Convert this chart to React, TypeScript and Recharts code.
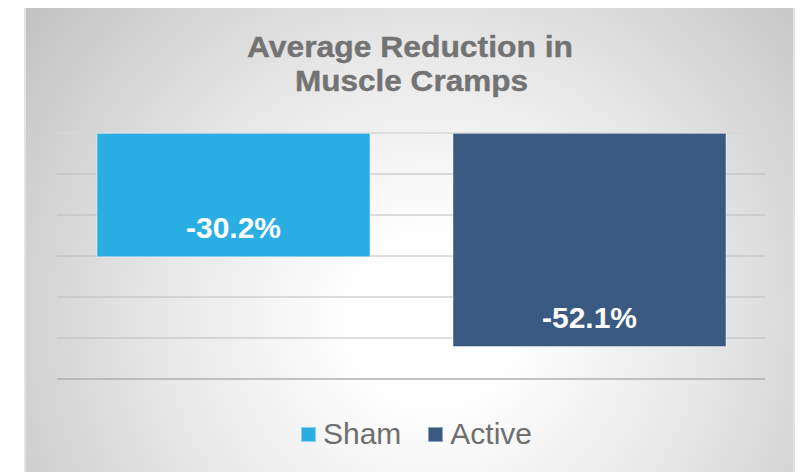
import React from 'react';
import { BarChart, Bar, XAxis, YAxis, CartesianGrid, Legend, LabelList, ReferenceLine } from 'recharts';

const categories = ['Average Reduction'];
const shamValues = [-30.2];
const activeValues = [-52.1];
const seriesNames = ['Sham', 'Active'];
const seriesColors = ['#2aaee4', '#3b5a81'];
const yTicks = [-60, -50, -40, -30, -20, -10, 0];
const titleLines = ['Average Reduction in', 'Muscle Cramps'];

const data = categories.map((c, i) => ({
  name: c,
  [seriesNames[0]]: shamValues[i],
  [seriesNames[1]]: activeValues[i],
}));

const FONT = '"Liberation Sans", Arial, sans-serif';

const fmt = (v: number) => `${v.toFixed(1)}%`;

const BarLabel = (props: any) => {
  const vb = props.viewBox || {};
  const x = props.x ?? vb.x;
  const y = props.y ?? vb.y;
  const w = props.width ?? vb.width;
  const h = props.height ?? vb.height;
  const bottom = Math.max(y, y + h);
  return (
    <text
      x={x + w / 2}
      y={bottom - 19}
      textAnchor="middle"
      fill="#ffffff"
      fontFamily={FONT}
      fontWeight="bold"
      fontSize={30}
    >
      {fmt(Number(props.value))}
    </text>
  );
};

const LegendContent = () => {
  return (
    <div
      style={{
        display: 'flex',
        justifyContent: 'center',
        alignItems: 'center',
        height: 30,
        paddingLeft: 28,
        boxSizing: 'border-box',
        fontFamily: FONT,
        fontSize: 30,
        lineHeight: '30px',
        color: '#6e6e6e',
      }}
    >
      {seriesNames.map((name, i) => (
        <div key={name} style={{ display: 'flex', alignItems: 'center', marginLeft: i === 0 ? 0 : 27 }}>
          <span
            style={{
              display: 'inline-block',
              width: 15,
              height: 15,
              background: seriesColors[i],
              boxSizing: 'border-box',
              border: '1px solid rgba(255,255,255,0.45)',
              marginRight: 7,
            }}
          />
          <span>{name}</span>
        </div>
      ))}
    </div>
  );
};

export default function App() {
  return (
    <div
      style={{
        position: 'relative',
        width: 805,
        height: 472,
        margin: '-8px 0 0 -8px',
        overflow: 'hidden',
        background: '#ffffff',
      }}
    >
      <div
        style={{
          position: 'absolute',
          left: 24,
          top: 4,
          width: 771,
          height: 480,
          boxSizing: 'border-box',
          border: '2px solid #e4e4e4',
          background:
            'radial-gradient(circle farthest-corner at 53% 66%, #ffffff 0%, #ffffff 16%, #e8e8e8 52%, #c2c2c2 100%)',
        }}
      />
      <svg width={805} height={110} style={{ position: 'absolute', left: 0, top: 0 }}>
        <text
          x={410}
          y={57}
          textAnchor="middle"
          fontFamily={FONT}
          fontWeight="bold"
          fontSize={29.5}
          fill="#737373"
          stroke="#737373"
          strokeWidth={0.4}
          textLength={326}
          lengthAdjust="spacingAndGlyphs"
        >
          {titleLines[0]}
        </text>
        <text
          x={411.5}
          y={91}
          textAnchor="middle"
          fontFamily={FONT}
          fontWeight="bold"
          fontSize={29.5}
          fill="#737373"
          stroke="#737373"
          strokeWidth={0.4}
          textLength={233}
          lengthAdjust="spacingAndGlyphs"
        >
          {titleLines[1]}
        </text>
      </svg>
      <div style={{ position: 'absolute', left: 0, top: 0 }}>
        <BarChart
          width={805}
          height={472}
          data={data}
          margin={{ top: 133, right: 40, bottom: 93, left: 57 }}
          barCategoryGap={40}
          barGap={83}
        >
          <CartesianGrid vertical={false} stroke="#bcbcbc" strokeWidth={1} />
          <XAxis dataKey="name" hide />
          <YAxis hide domain={[-60, 0]} ticks={yTicks} />
          <ReferenceLine y={0} stroke="#e4e4e4" strokeWidth={1} />
          <ReferenceLine y={-60} stroke="#a9a9a9" strokeWidth={1} />
          <Legend
            layout="horizontal"
            verticalAlign="middle"
            align="center"
            wrapperStyle={{ top: 419, left: 0, width: 805, height: 30 }}
            content={<LegendContent />}
          />
          {seriesNames.map((s, i) => (
            <Bar
              key={s}
              dataKey={s}
              name={s}
              fill={seriesColors[i]}
              stroke="rgba(255,255,255,0.45)"
              strokeWidth={1}
              isAnimationActive={false}
            >
              <LabelList dataKey={s} content={<BarLabel />} />
            </Bar>
          ))}
        </BarChart>
      </div>
    </div>
  );
}
